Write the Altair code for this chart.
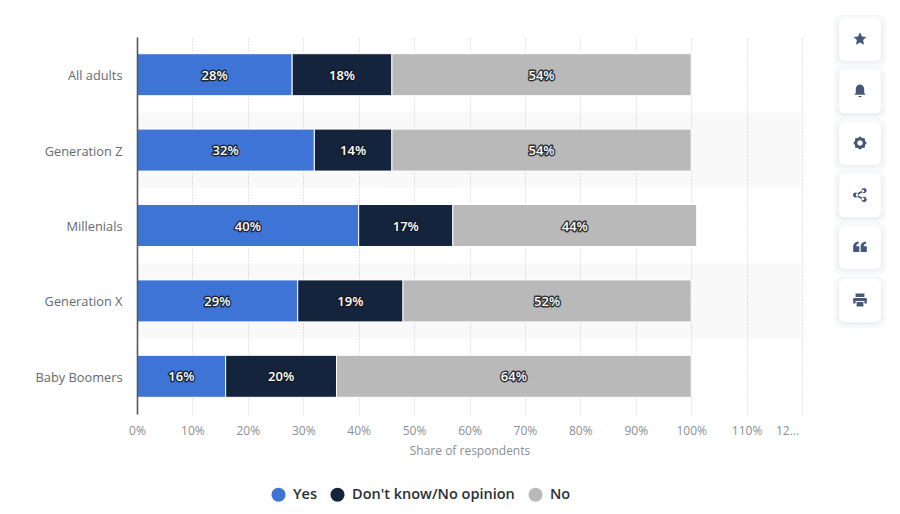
import altair as alt
import pandas as pd

groups = ["All adults", "Generation Z", "Millenials", "Generation X", "Baby Boomers"]
answers = ["Yes", "Don't know/No opinion", "No"]
yes_values = [28, 32, 40, 29, 16]
unsure_values = [18, 14, 17, 19, 20]
no_values = [54, 54, 44, 52, 64]
colors = ["#3e74d6", "#14243c", "#b9b9b9"]
ticks = list(range(0, 130, 10))
striped_groups = ["Generation Z", "Generation X"]

FONT = "Open Sans"
rows = []
for i, g in enumerate(groups):
    for j, (a, v) in enumerate(zip(answers, [yes_values[i], unsure_values[i], no_values[i]])):
        rows.append({"group": g, "answer": a, "value": v, "rank": j})
df = pd.DataFrame(rows)

y_enc = alt.Y(
    "group:N",
    sort=groups,
    scale=alt.Scale(paddingInner=0, paddingOuter=0, domain=groups),
    axis=alt.Axis(
        title=None, ticks=False, grid=False, domain=True, domainColor="#55585e", domainWidth=1.6,
        labelFont=FONT, labelFontSize=12.8, labelColor="#66696e", labelPadding=15, labelLimit=200,
        labelOffset=1.5,
    ),
)
x_scale = alt.Scale(domain=[0, 120], nice=False, clamp=False)
x_enc = alt.X(
    "x0:Q",
    scale=x_scale,
    axis=alt.Axis(
        title="Share of respondents", values=ticks, ticks=False, domain=False,
        grid=True, gridColor="#c6c9ce", gridDash=[1, 2], gridWidth=1,
        labelFont=FONT, labelFontSize=12, labelColor="#8b8e93", labelPadding=11, labelFlush=False,
        labelExpr="datum.value == 120 ? '12...' : datum.value + '%'",
        labelOffset={"condition": {"test": "datum.value == 120", "value": -15}, "value": 0},
        titleFont=FONT, titleFontSize=12, titleColor="#8b8e93", titleFontWeight="normal", titlePadding=9,
    ),
)

stripes = (
    alt.Chart(pd.DataFrame({"group": striped_groups, "a": [0, 0], "b": [120, 120]}))
    .mark_rect(color="#000000", opacity=0.022)
    .encode(y=alt.Y("group:N", sort=groups), x=alt.X("a:Q", scale=x_scale), x2="b:Q")
)

base = (
    alt.Chart(df)
    .transform_stack(stack="value", groupby=["group"], sort=[alt.SortField("rank", order="ascending")], as_=["x0", "x1"])
    .transform_calculate(mid="(datum.x0 + datum.x1) / 2", label="datum.value + '%'")
)

bars = base.mark_bar(size=42, stroke="#ffffff", strokeWidth=1).encode(
    y=y_enc,
    x=x_enc,
    x2="x1:Q",
    color=alt.Color(
        "answer:N",
        scale=alt.Scale(domain=answers, range=colors),
        legend=alt.Legend(
            orient="none", legendX=134, legendY=450, direction="horizontal", title=None,
            symbolType="circle", symbolSize=200, symbolStrokeWidth=0, columnPadding=13,
            labelFont=FONT, labelFontSize=14.5, labelFontWeight=600, labelColor="#2a2f36", labelLimit=300,
            labelOffset=7,
        ),
    ),
)

halo = base.mark_text(
    font=FONT, fontSize=13, fontWeight=600, dy=1, stroke="#16181c", strokeWidth=2.8, strokeOpacity=0.85,
    strokeJoin="round", fill="#16181c",
).encode(y=alt.Y("group:N", sort=groups), x=alt.X("mid:Q", scale=x_scale), text="label:N")
labels = base.mark_text(font=FONT, fontSize=13, fontWeight=600, dy=1, fill="#ffffff").encode(
    y=alt.Y("group:N", sort=groups), x=alt.X("mid:Q", scale=x_scale), text="label:N"
)


def ring(cx, cy, r):
    return f"M{cx - r},{cy} a{r},{r} 0 1,0 {2 * r},0 a{r},{r} 0 1,0 {-2 * r},0 Z "


icon_paths = [
    "M0,-1 L0.29,-0.36 L0.95,-0.31 L0.46,0.13 L0.59,0.85 L0,0.5 L-0.59,0.85 L-0.46,0.13 L-0.95,-0.31 L-0.29,-0.36 Z",
    "M-0.8,0.55 L-0.62,0.25 L-0.62,-0.25 C-0.62,-0.7 -0.3,-0.95 0,-0.95 C0.3,-0.95 0.62,-0.7 0.62,-0.25 "
    "L0.62,0.25 L0.8,0.55 Z M-0.25,0.72 L0.25,0.72 C0.2,1 -0.2,1 -0.25,0.72 Z",
    "M0,-1 L0.3,-0.74 L0.7,-0.7 L0.74,-0.3 L1,0 L0.74,0.3 L0.7,0.7 L0.3,0.74 L0,1 L-0.3,0.74 L-0.7,0.7 "
    "L-0.74,0.3 L-1,0 L-0.74,-0.3 L-0.7,-0.7 L-0.3,-0.74 Z "
    "M0,-0.42 L-0.3,-0.3 L-0.42,0 L-0.3,0.3 L0,0.42 L0.3,0.3 L0.42,0 L0.3,-0.3 Z",
    ring(0.6, -0.65, 0.38) + ring(-0.65, 0, 0.38) + ring(0.6, 0.65, 0.38)
    + "M-0.6,-0.16 L0.55,-0.82 L0.65,-0.52 L-0.42,0 L0.65,0.52 L0.55,0.82 L-0.6,0.16 Z",
    "M-1,0.75 L-1,-0.05 C-1,-0.5 -0.65,-0.75 -0.2,-0.8 L-0.2,-0.5 C-0.45,-0.45 -0.55,-0.3 -0.55,-0.1 "
    "L-0.1,-0.1 L-0.1,0.75 Z "
    "M0.1,0.75 L0.1,-0.05 C0.1,-0.5 0.45,-0.75 0.9,-0.8 L0.9,-0.5 C0.65,-0.45 0.55,-0.3 0.55,-0.1 "
    "L1,-0.1 L1,0.75 Z",
    "M-0.65,-0.95 L0.65,-0.95 L0.65,-0.45 L-0.65,-0.45 Z "
    "M-0.85,-0.3 L0.85,-0.3 C0.95,-0.3 1,-0.22 1,-0.12 L1,0.5 L0.65,0.5 L0.65,0.15 L-0.65,0.15 L-0.65,0.5 L-1,0.5 "
    "L-1,-0.12 C-1,-0.22 -0.95,-0.3 -0.85,-0.3 Z "
    "M-0.5,0.3 L0.5,0.3 L0.5,0.95 L-0.5,0.95 Z",
]
card_tops = [18, 70, 122, 174, 226, 279]
CARD_LEFT, CARD_RIGHT, CARD_H = 839, 881, 43
OX, OY = 137, 37
dummy = pd.DataFrame({"d": [0]})

deco = []
for top, path in zip(card_tops, icon_paths):
    for grow, col in [(5, "#f7f8fa"), (2, "#eff1f4")]:
        deco.append(
            alt.Chart(dummy).mark_rect(color=col, cornerRadius=8).encode(
                x=alt.value(CARD_LEFT - OX - grow), x2=alt.value(CARD_RIGHT - OX + grow),
                y=alt.value(top - OY - grow + 2), y2=alt.value(top + CARD_H - OY + grow + 1),
            )
        )
    deco.append(
        alt.Chart(dummy).mark_rect(color="#ffffff", cornerRadius=6).encode(
            x=alt.value(CARD_LEFT - OX), x2=alt.value(CARD_RIGHT - OX),
            y=alt.value(top - OY), y2=alt.value(top + CARD_H - OY),
        )
    )
    deco.append(
        alt.Chart(dummy).mark_point(shape=path, filled=True, color="#46587a", opacity=1, size=185).encode(
            x=alt.value(CARD_LEFT + 21 - OX), y=alt.value(top + 21 - OY),
        )
    )

chart = (
    alt.layer(stripes, bars, halo, labels, *deco)
    .resolve_scale(color="shared")
    .properties(
        width=665, height=377,
        padding={"left": 129, "top": 29, "right": 90, "bottom": 92},
        autosize=alt.AutoSizeParams(type="none"),
        background="#ffffff",
    )
    .configure_view(stroke=None)
)
chart.save("out.html", embed_options={"renderer": "svg", "actions": False})
